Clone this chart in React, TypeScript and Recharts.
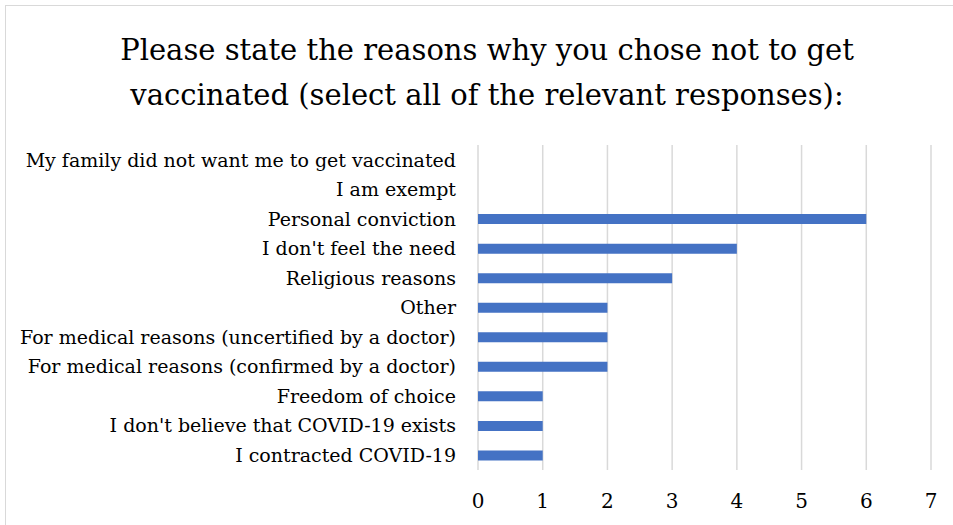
import React from "react";
import { BarChart, Bar, XAxis, YAxis, CartesianGrid } from "recharts";

const TITLE_LINES = [
  "Please state the reasons why you chose not to get",
  "vaccinated (select all of the relevant responses):",
];

// listed top to bottom, as drawn
const reasons = [
  "My family did not want me to get vaccinated",
  "I am exempt",
  "Personal conviction",
  "I don't feel the need",
  "Religious reasons",
  "Other",
  "For medical reasons (uncertified by a doctor)",
  "For medical reasons (confirmed by a doctor)",
  "Freedom of choice",
  "I don't believe that COVID-19 exists",
  "I contracted COVID-19",
];

const counts = [0, 0, 6, 4, 3, 2, 2, 2, 1, 1, 1];

const xTicks = [0, 1, 2, 3, 4, 5, 6, 7];

const FONT = "'DejaVu Serif', 'Liberation Serif', serif";
const BAR_COLOR = "#4472C4";

const data = reasons.map((name, i) => ({ name, value: counts[i] }));

export default function App() {
  return (
    <div
      style={{
        position: "absolute",
        left: 0,
        top: 0,
        width: 953,
        height: 525,
        overflow: "hidden",
        background: "#fff",
        fontFamily: FONT,
      }}
    >
      {/* chart frame, runs past the right and bottom edges */}
      <div
        style={{
          position: "absolute",
          left: 5,
          top: 5,
          width: 964,
          height: 540,
          border: "1px solid #d9d9d9",
          boxSizing: "border-box",
        }}
      />
      <div
        style={{
          position: "absolute",
          left: 0,
          top: 28,
          width: 974,
          textAlign: "center",
          fontSize: 29,
          lineHeight: "45px",
          color: "#000",
        }}
      >
        {TITLE_LINES.map((t) => (
          <div key={t}>{t}</div>
        ))}
      </div>
      <div style={{ position: "absolute", left: 0, top: 0 }}>
        <BarChart
          width={953}
          height={525}
          data={data}
          layout="vertical"
          margin={{ top: 145, right: 22, bottom: 15, left: 0 }}
          barCategoryGap={0}
        >
          <CartesianGrid
            horizontal={false}
            stroke="#d9d9d9"
            strokeWidth={1.5}
          />
          <XAxis
            type="number"
            domain={[0, 7]}
            ticks={xTicks}
            interval={0}
            axisLine={false}
            tickLine={false}
            height={40}
            tickMargin={18}
            tick={{ fill: "#000", fontSize: 20, fontFamily: FONT }}
          />
          <YAxis
            type="category"
            dataKey="name"
            width={478}
            axisLine={false}
            tickLine={false}
            tickSize={0}
            tickMargin={22}
            interval={0}
            tick={{ fill: "#000", fontSize: 19, fontFamily: FONT }}
          />
          <Bar
            dataKey="value"
            fill={BAR_COLOR}
            barSize={10}
            isAnimationActive={false}
          />
        </BarChart>
      </div>
    </div>
  );
}
